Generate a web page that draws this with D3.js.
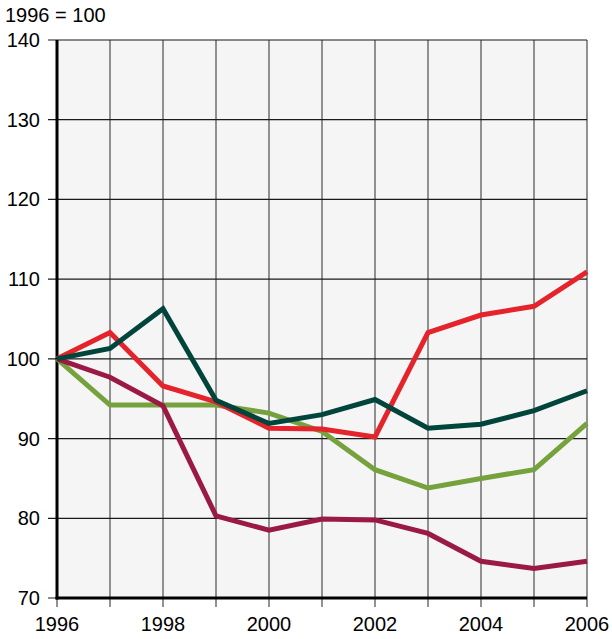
<!DOCTYPE html>
<html>
<head>
<meta charset="utf-8">
<script src="https://cdn.jsdelivr.net/npm/d3@7"></script>
<style>
  body { margin: 0; background: #fff; }
  svg text { font-family: "Liberation Sans", Arial, sans-serif; fill: #000; }
</style>
</head>
<body>
<script>
// Data, index 1996 = 100
var years = [1996, 1997, 1998, 1999, 2000, 2001, 2002, 2003, 2004, 2005, 2006];
var redSeries = [100, 103.3, 96.6, 94.6, 91.3, 91.2, 90.2, 103.3, 105.5, 106.6, 110.9];
var darkGreenSeries = [100, 101.3, 106.3, 94.8, 91.9, 93.0, 94.9, 91.3, 91.8, 93.5, 96.0];
var lightGreenSeries = [100, 94.2, 94.2, 94.2, 93.2, 90.9, 86.1, 83.8, 85.0, 86.1, 91.9];
var maroonSeries = [100, 97.7, 94.1, 80.3, 78.5, 79.9, 79.8, 78.1, 74.6, 73.7, 74.6];
var yTicks = [70, 80, 90, 100, 110, 120, 130, 140];
var xLabels = [1996, 1998, 2000, 2002, 2004, 2006];

// Set up size
var width = 612, height = 639;
var plotLeft = 57, plotRight = 587, plotTop = 40, plotBottom = 598;

var x = d3.scaleLinear().domain([1996, 2006]).range([plotLeft, plotRight]);
var y = d3.scaleLinear().domain([70, 140]).range([plotBottom, plotTop]);

var svg = d3.select('body').append('svg')
  .attr('width', width)
  .attr('height', height);

// plot background
svg.append('rect')
  .attr('x', plotLeft).attr('y', plotTop)
  .attr('width', plotRight - plotLeft).attr('height', plotBottom - plotTop)
  .attr('fill', '#f5f5f5');

// vertical grid, with ticks below axis
svg.append('g').selectAll('line')
  .data(years)
  .enter().append('line')
  .attr('x1', function(d) { return x(d); })
  .attr('x2', function(d) { return x(d); })
  .attr('y1', plotTop)
  .attr('y2', plotBottom + 9)
  .attr('stroke', '#6e6e6e')
  .attr('stroke-width', 1.5);

// horizontal grid, with ticks left of axis
svg.append('g').selectAll('line')
  .data(yTicks)
  .enter().append('line')
  .attr('x1', plotLeft - 9)
  .attr('x2', plotRight)
  .attr('y1', function(d) { return y(d); })
  .attr('y2', function(d) { return y(d); })
  .attr('stroke', '#1a1a1a')
  .attr('stroke-width', 1.2);

// axis lines
svg.append('line')
  .attr('x1', plotLeft).attr('x2', plotLeft)
  .attr('y1', plotTop).attr('y2', plotBottom + 1.5)
  .attr('stroke', '#000').attr('stroke-width', 3);
svg.append('line')
  .attr('x1', plotLeft - 1.5).attr('x2', plotRight)
  .attr('y1', plotBottom).attr('y2', plotBottom)
  .attr('stroke', '#000').attr('stroke-width', 3);

// y tick labels
svg.append('g').selectAll('text')
  .data(yTicks)
  .enter().append('text')
  .attr('x', plotLeft - 17)
  .attr('y', function(d) { return y(d) + 7; })
  .attr('text-anchor', 'end')
  .style('font-size', '20px')
  .text(function(d) { return d; });

// x tick labels
svg.append('g').selectAll('text')
  .data(xLabels)
  .enter().append('text')
  .attr('x', function(d) { return x(d); })
  .attr('y', 631)
  .attr('text-anchor', 'middle')
  .style('font-size', '20px')
  .text(function(d) { return d; });

// unit label
svg.append('text')
  .attr('x', 5).attr('y', 22)
  .style('font-size', '20px')
  .text('1996 = 100');

// lines
var series = [
  {values: lightGreenSeries, color: '#76a23d'},
  {values: maroonSeries, color: '#9b1a45'},
  {values: redSeries, color: '#e5232b'},
  {values: darkGreenSeries, color: '#00453b'}
];

var line = d3.line()
  .x(function(d, i) { return x(years[i]); })
  .y(function(d) { return y(d); });

svg.append('g').selectAll('path')
  .data(series)
  .enter().append('path')
  .attr('d', function(d) { return line(d.values); })
  .attr('fill', 'none')
  .attr('stroke', function(d) { return d.color; })
  .attr('stroke-width', 5)
  .attr('stroke-linejoin', 'miter');
</script>
</body>
</html>
